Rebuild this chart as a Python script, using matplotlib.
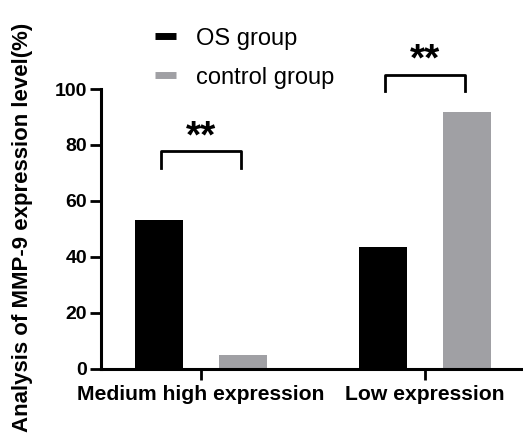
import matplotlib
matplotlib.use("Agg")
import matplotlib.pyplot as plt
from matplotlib.lines import Line2D
import numpy as np

categories = ["Medium high expression", "Low expression"]
os_group = [53.2, 43.4]
control_group = [4.7, 91.9]
series_names = ["OS group", "control group"]
colors = ["#000000", "#a0a0a4"]
yticks = [0, 20, 40, 60, 80, 100]

plt.rcParams['font.family'] = ['Liberation Sans', 'DejaVu Sans']

W, H = 523, 440
fig = plt.figure(figsize=(W/100, H/100), dpi=100)
ax = fig.add_axes([101/W, 71.5/H, 422/W, 279.5/H])

x = np.arange(len(categories))
bw = 0.21
off = 0.1875
ax.bar(x - off, os_group, bw, color=colors[0], zorder=2)
ax.bar(x + off, control_group, bw, color=colors[1], zorder=2)

ax.set_xlim(-100/224, 322/224)
ax.set_ylim(0, 100)
ax.set_yticks(yticks)
ax.set_xticks(x)
ax.set_xticklabels(categories, fontsize=15.2, fontweight='bold')
ax.set_yticklabels([str(t) for t in yticks], fontsize=14, fontweight='bold')
for s in ['top', 'right']:
    ax.spines[s].set_visible(False)
for s in ['left', 'bottom']:
    ax.spines[s].set_linewidth(2.2)
ax.tick_params(axis='y', length=8, width=2, pad=2)
ax.tick_params(axis='x', length=8, width=2, pad=4)
ax.set_ylabel("Analysis of MMP-9 expression level(%)", fontsize=16, fontweight='bold')
ax.yaxis.set_label_coords(-68/422, 0.505)

# significance brackets
brackets = [(77.9, 71.6, 82.6), (105.0, 99.4, 110.2)]
for i, (top, leg, star_y) in enumerate(brackets):
    x0 = x[i] - off + 0.01
    x1 = x[i] + off - 0.01
    ax.plot([x0, x0, x1, x1], [leg, top, top, leg], color='black', lw=2, clip_on=False)
    ax.text(x[i], star_y, "**", ha='center', va='center', fontsize=28, fontweight='bold', clip_on=False)

handles = [Line2D([0], [0], color=c, lw=5, solid_capstyle='butt') for c in colors]
fig.legend(handles, series_names, loc='upper left', bbox_to_anchor=(148/W, 1 - 20.5/H),
           frameon=False, fontsize=17, handlelength=0.9, handletextpad=0.85, labelspacing=0.72,
           borderaxespad=0, borderpad=0.3)

fig.savefig("out.png", dpi=100)
